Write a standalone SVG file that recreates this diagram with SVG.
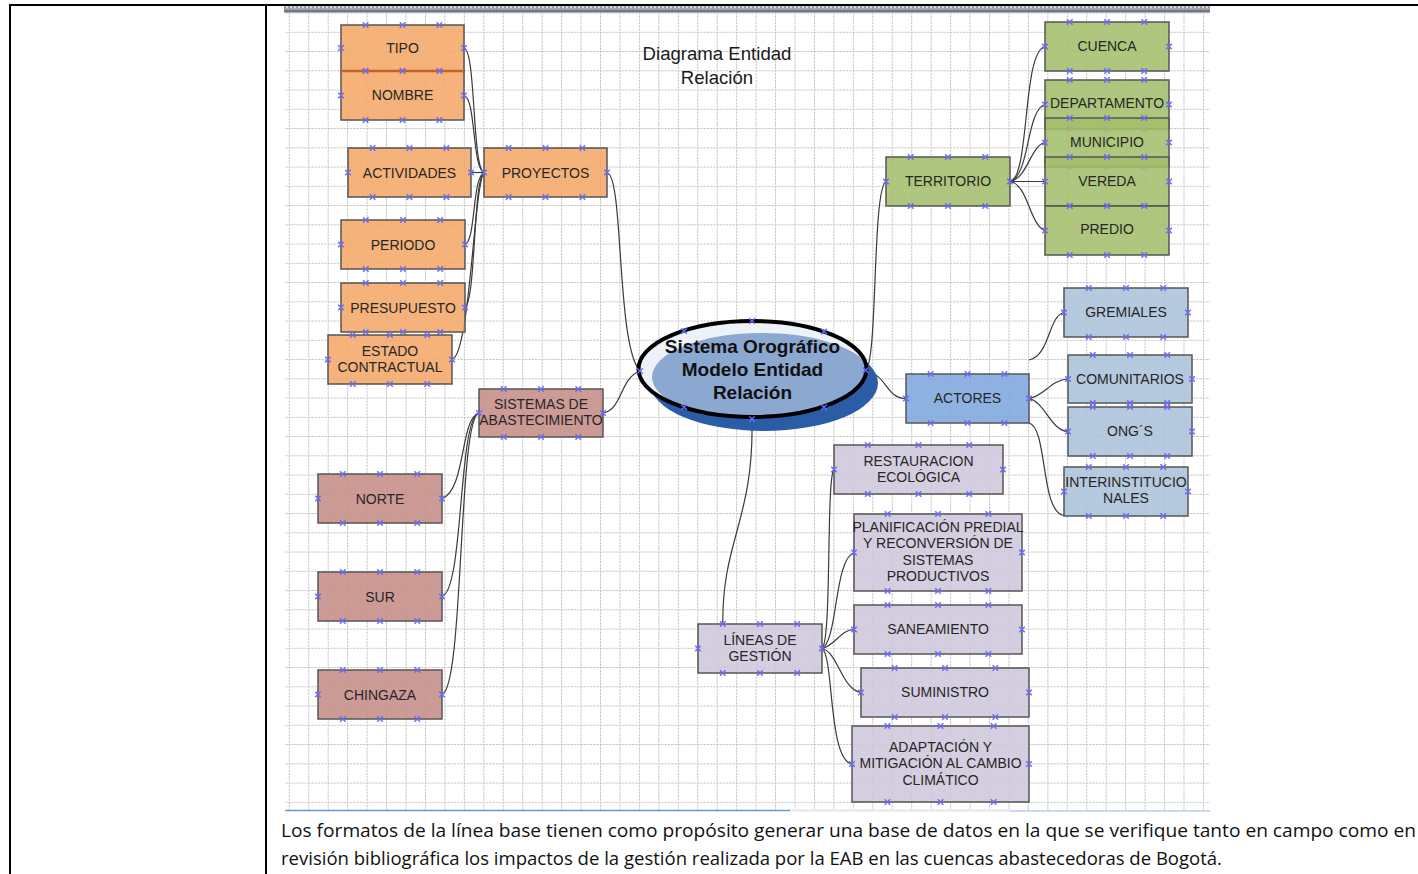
<svg xmlns="http://www.w3.org/2000/svg" width="1418" height="874" viewBox="0 0 1418 874">
<style>
.nd{stroke:#555;stroke-width:1.5;fill-opacity:0.88}
.or{fill:#F4A869}.br{fill:#C68D86}.gr{fill:#A4BE6C}.bl{fill:#ABC1DB}.ac{fill:#7EA9DF}.li{fill:#CFC7DC}
.t{font-family:"Liberation Sans",Arial,sans-serif;font-size:14px;fill:#262626;text-anchor:middle}
.mk{fill:none;stroke:none;marker-start:url(#xm);marker-mid:url(#xm);marker-end:url(#xm)}
.cn{fill:none;stroke:#3a3a3a;stroke-width:1.2}
.para{font-family:"Open Sans","Noto Sans",sans-serif;font-size:18.5px;fill:#111}
</style>
<defs>
<pattern id="grid" patternUnits="userSpaceOnUse" x="288.8" y="31.8" width="19.45" height="19.25">
<path d="M0.5,0 V19.25 M0,0.5 H19.45" stroke="#bdbdbd" stroke-width="1" stroke-dasharray="2,1.2" fill="none"/>
</pattern>
<pattern id="chk" patternUnits="userSpaceOnUse" x="284" y="5" width="4" height="4">
<rect width="4" height="4" fill="#d8d8d8"/><rect width="2" height="4" fill="#9a9a9a"/>
</pattern>
<marker id="xm" markerUnits="userSpaceOnUse" markerWidth="10" markerHeight="10" refX="5" refY="5" orient="0" overflow="visible">
<path d="M2.2,2.2 L7.8,7.8 M7.8,2.2 L2.2,7.8" stroke="#6a6af8" stroke-width="1.4"/>
</marker>
<clipPath id="ec"><ellipse cx="752.5" cy="369" rx="114" ry="48"/></clipPath>
</defs>

<rect width="1418" height="874" fill="#fff"/>
<g id="canvas">
<rect x="285" y="12" width="925" height="798" fill="#fff"/>
<rect x="285" y="12" width="925" height="798" fill="url(#grid)"/>
<rect x="284" y="5.5" width="926" height="3" fill="url(#chk)"/>
<rect x="284" y="8.5" width="926" height="4" fill="#6f7787"/>
<line x1="284" y1="9.5" x2="1210" y2="9.5" stroke="#9aa2b0" stroke-width="1"/>
<line x1="285" y1="810.5" x2="790" y2="810.5" stroke="#6a98d6" stroke-width="1.5"/>
<rect x="790" y="809" width="220" height="3" fill="#ececec"/>
<line x1="1010" y1="811" x2="1210" y2="811" stroke="#b9cdec" stroke-width="1.5"/>
</g>
<g id="table" stroke="#000" stroke-width="2">
<line x1="9" y1="5" x2="1418" y2="5"/>
<line x1="10" y1="4" x2="10" y2="874"/>
<line x1="266" y1="4" x2="266" y2="874"/>
</g>

<g id="title" class="t" style="font-size:18.6px;fill:#1a1a1a">
<text x="717" y="60">Diagrama Entidad</text>
<text x="717" y="84">Relación</text>
</g>

<g id="connectors" class="cn">
<path d="M464,48 C476,50 472,168 484,172.5"/>
<path d="M464,95.5 C476,98 472,168 484,172.5"/>
<path d="M471,172.5 C476,172.5 478,172.5 484,172.5"/>
<path d="M465,244.5 C476,240 472,178 484,172.5"/>
<path d="M465,307.5 C476,300 473,180 484,172.5"/>
<path d="M452,359.5 C470,355 474,185 484,172.5"/>
<path d="M607,172.5 C624,176 616,345 640,371"/>
<path d="M603,413 C622,410 620,378 640,371"/>
<path d="M479,413 C460,418 466,490 442,498.5"/>
<path d="M479,413 C458,418 464,590 442,596.5"/>
<path d="M479,413 C458,418 464,688 442,694.5"/>
<path d="M752,419 C754,520 722,540 722.8,624"/>
<path d="M822,648.5 C832,640 826,478 834,469.5"/>
<path d="M822,648.5 C838,640 834,560 854,552.5"/>
<path d="M822,648.5 C836,645 840,630 854,629.5"/>
<path d="M822,648.5 C838,652 842,690 861,692.5"/>
<path d="M822,648.5 C834,656 828,760 852,764"/>
<path d="M865.7,370.3 C878,360 872,190 886,181.5"/>
<path d="M865.7,370.3 C888,376 886,398.5 906,398.5"/>
<path d="M1010,181.5 C1030,178 1022,52 1045,46.5"/>
<path d="M1010,181.5 C1030,176 1026,110 1045,104.5"/>
<path d="M1010,181.5 C1028,178 1030,146 1045,142.5"/>
<path d="M1010,181.5 L1045,181.5"/>
<path d="M1010,181.5 C1028,184 1030,226 1045,230.5"/>
<path d="M1029,398.5 C1045,396 1050,380 1068,379"/>
<path d="M1029,398.5 C1045,402 1050,430 1068,431.5"/>
<path d="M1029,360 C1050,356 1048,316 1064,312.5"/>
<path d="M1029,423 C1048,428 1040,512 1064,515.5"/>
</g>

<g id="center">
<ellipse cx="764" cy="383" rx="114" ry="48" fill="#2B5DA6"/>
<ellipse cx="752.5" cy="369" rx="114" ry="48" fill="#EDF2F9"/>
<ellipse cx="762" cy="377" rx="110" ry="44" fill="#8BA8D0" clip-path="url(#ec)"/>
<ellipse cx="752.5" cy="369" rx="114" ry="48" fill="none" stroke="#000" stroke-width="4"/>
<g class="t" style="font-size:19px;font-weight:bold;fill:#111">
<text x="752.5" y="352.5">Sistema Orográfico</text>
<text x="752.5" y="375.5">Modelo Entidad</text>
<text x="752.5" y="398.5">Relación</text>
</g>
<polyline class="mk" points="640,371 684,331 752,321 824,331.5 865.7,370.3 824,407.3 752,419.3 684,407.3"/>
</g>

<g id="tipo"><rect class="nd or" x="341" y="25" width="123" height="46"/><text class="t" x="402.5" y="53">TIPO</text>
<polyline class="mk" points="341,48 365.6,25 402.5,25 439.4,25 464,48 439.4,71 402.5,71 365.6,71"/></g>
<g id="nombre"><rect class="nd or" x="341" y="71" width="123" height="49"/><line x1="341" y1="71" x2="464" y2="71" stroke="#C0652A" stroke-width="2.5"/><text class="t" x="402.5" y="100">NOMBRE</text>
<polyline class="mk" points="341,95.5 365.6,71 402.5,71 439.4,71 464,95.5 439.4,120 402.5,120 365.6,120"/></g>
<g id="actividades"><rect class="nd or" x="348" y="148" width="123" height="49"/><text class="t" x="409.5" y="177.5">ACTIVIDADES</text>
<polyline class="mk" points="348,172.5 372.6,148 409.5,148 446.4,148 471,172.5 446.4,197 409.5,197 372.6,197"/></g>
<g id="proyectos"><rect class="nd or" x="484" y="148" width="123" height="49"/><text class="t" x="545.5" y="177.5">PROYECTOS</text>
<polyline class="mk" points="484,172.5 508.6,148 545.5,148 582.4,148 607,172.5 582.4,197 545.5,197 508.6,197"/></g>
<g id="periodo"><rect class="nd or" x="341" y="220" width="124" height="49"/><text class="t" x="403" y="249.5">PERIODO</text>
<polyline class="mk" points="341,244.5 365.8,220 403,220 440.2,220 465,244.5 440.2,269 403,269 365.8,269"/></g>
<g id="presupuesto"><rect class="nd or" x="341" y="283" width="124" height="49"/><text class="t" x="403" y="312.5">PRESUPUESTO</text>
<polyline class="mk" points="341,307.5 365.8,283 403,283 440.2,283 465,307.5 440.2,332 403,332 365.8,332"/></g>
<g id="estado"><rect class="nd or" x="328" y="335" width="124" height="49"/><text class="t" x="390" y="356">ESTADO</text><text class="t" x="390" y="372">CONTRACTUAL</text>
<polyline class="mk" points="328,359.5 352.8,335 390,335 427.2,335 452,359.5 427.2,384 390,384 352.8,384"/></g>
<g id="sistemas"><rect class="nd br" x="479" y="389" width="124" height="48"/><text class="t" x="541" y="409">SISTEMAS DE</text><text class="t" x="541" y="425">ABASTECIMIENTO</text>
<polyline class="mk" points="479,413 503.8,389 541,389 578.2,389 603,413 578.2,437 541,437 503.8,437"/></g>
<g id="norte"><rect class="nd br" x="318" y="474" width="124" height="49"/><text class="t" x="380" y="503.5">NORTE</text>
<polyline class="mk" points="318,498.5 342.8,474 380,474 417.2,474 442,498.5 417.2,523 380,523 342.8,523"/></g>
<g id="sur"><rect class="nd br" x="318" y="572" width="124" height="49"/><text class="t" x="380" y="601.5">SUR</text>
<polyline class="mk" points="318,596.5 342.8,572 380,572 417.2,572 442,596.5 417.2,621 380,621 342.8,621"/></g>
<g id="chingaza"><rect class="nd br" x="318" y="670" width="124" height="49"/><text class="t" x="380" y="699.5">CHINGAZA</text>
<polyline class="mk" points="318,694.5 342.8,670 380,670 417.2,670 442,694.5 417.2,719 380,719 342.8,719"/></g>

<g id="cuenca"><rect class="nd gr" x="1045" y="22" width="124" height="49"/><text class="t" x="1107" y="51">CUENCA</text>
<polyline class="mk" points="1045,46.5 1069.8,22 1107,22 1144.2,22 1169,46.5 1144.2,71 1107,71 1069.8,71"/></g>
<g id="departamento"><rect class="nd gr" x="1045" y="80" width="124" height="49"/><text class="t" x="1107" y="108">DEPARTAMENTO</text>
<polyline class="mk" points="1045,104.5 1069.8,80 1107,80 1144.2,80 1169,104.5 1144.2,129 1107,129 1069.8,129"/></g>
<g id="municipio"><rect class="nd gr" x="1045" y="118" width="124" height="49"/><text class="t" x="1107" y="147">MUNICIPIO</text>
<polyline class="mk" points="1045,142.5 1069.8,118 1107,118 1144.2,118 1169,142.5 1144.2,167 1107,167 1069.8,167"/></g>
<g id="vereda"><rect class="nd gr" x="1045" y="157" width="124" height="49"/><text class="t" x="1107" y="186">VEREDA</text>
<polyline class="mk" points="1045,181.5 1069.8,157 1107,157 1144.2,157 1169,181.5 1144.2,206 1107,206 1069.8,206"/></g>
<g id="predio"><rect class="nd gr" x="1045" y="206" width="124" height="49"/><text class="t" x="1107" y="234">PREDIO</text>
<polyline class="mk" points="1045,230.5 1069.8,206 1107,206 1144.2,206 1169,230.5 1144.2,255 1107,255 1069.8,255"/></g>
<g id="territorio"><rect class="nd gr" x="886" y="157" width="124" height="49"/><text class="t" x="948" y="186">TERRITORIO</text>
<polyline class="mk" points="886,181.5 910.8,157 948,157 985.2,157 1010,181.5 985.2,206 948,206 910.8,206"/></g>

<g id="gremiales"><rect class="nd bl" x="1064" y="288" width="124" height="49"/><text class="t" x="1126" y="317">GREMIALES</text>
<polyline class="mk" points="1064,312.5 1088.8,288 1126,288 1163.2,288 1188,312.5 1163.2,337 1126,337 1088.8,337"/></g>
<g id="comunitarios"><rect class="nd bl" x="1068" y="355" width="124" height="48"/><text class="t" x="1130" y="384">COMUNITARIOS</text>
<polyline class="mk" points="1068,379 1092.8,355 1130,355 1167.2,355 1192,379 1167.2,403 1130,403 1092.8,403"/></g>
<g id="ongs"><rect class="nd bl" x="1068" y="407" width="124" height="49"/><text class="t" x="1130" y="436">ONG´S</text>
<polyline class="mk" points="1068,431.5 1092.8,407 1130,407 1167.2,407 1192,431.5 1167.2,456 1130,456 1092.8,456"/></g>
<g id="interinstitucionales"><rect class="nd bl" x="1064" y="467" width="124" height="49"/><text class="t" x="1126" y="487">INTERINSTITUCIO</text><text class="t" x="1126" y="503">NALES</text>
<polyline class="mk" points="1064,491.5 1088.8,467 1126,467 1163.2,467 1188,491.5 1163.2,516 1126,516 1088.8,516"/></g>
<g id="actores"><rect class="nd ac" x="906" y="374" width="123" height="49"/><text class="t" x="967.5" y="403">ACTORES</text>
<polyline class="mk" points="906,398.5 930.6,374 967.5,374 1004.4,374 1029,398.5 1004.4,423 967.5,423 930.6,423"/></g>

<g id="restauracion"><rect class="nd li" x="834" y="445" width="169" height="49"/><text class="t" x="918.5" y="466">RESTAURACION</text><text class="t" x="918.5" y="482">ECOLÓGICA</text>
<polyline class="mk" points="834,469.5 867.8,445 918.5,445 969.2,445 1003,469.5 969.2,494 918.5,494 867.8,494"/></g>
<g id="planificacion"><rect class="nd li" x="854" y="514" width="168" height="77"/>
<text class="t" x="938" y="532">PLANIFICACIÓN PREDIAL</text><text class="t" x="938" y="548">Y RECONVERSIÓN DE</text><text class="t" x="938" y="565">SISTEMAS</text><text class="t" x="938" y="581">PRODUCTIVOS</text>
<polyline class="mk" points="854,552.5 887.6,514 938,514 988.4,514 1022,552.5 988.4,591 938,591 887.6,591"/></g>
<g id="saneamiento"><rect class="nd li" x="854" y="605" width="168" height="49"/><text class="t" x="938" y="634">SANEAMIENTO</text>
<polyline class="mk" points="854,629.5 887.6,605 938,605 988.4,605 1022,629.5 988.4,654 938,654 887.6,654"/></g>
<g id="suministro"><rect class="nd li" x="861" y="668" width="168" height="49"/><text class="t" x="945" y="697">SUMINISTRO</text>
<polyline class="mk" points="861,692.5 894.6,668 945,668 995.4,668 1029,692.5 995.4,717 945,717 894.6,717"/></g>
<g id="adaptacion"><rect class="nd li" x="852" y="726" width="177" height="76"/>
<text class="t" x="940.5" y="752">ADAPTACIÓN Y</text><text class="t" x="940.5" y="768">MITIGACIÓN AL CAMBIO</text><text class="t" x="940.5" y="785">CLIMÁTICO</text>
<polyline class="mk" points="852,764 887.4,726 940.5,726 993.6,726 1029,764 993.6,802 940.5,802 887.4,802"/></g>
<g id="lineas"><rect class="nd li" x="698" y="624" width="124" height="49"/><text class="t" x="760" y="645">LÍNEAS DE</text><text class="t" x="760" y="661">GESTIÓN</text>
<polyline class="mk" points="698,648.5 722.8,624 760,624 797.2,624 822,648.5 797.2,673 760,673 722.8,673"/></g>

<g id="caption" class="para">
<text x="281" y="836.5" textLength="1135" lengthAdjust="spacingAndGlyphs">Los formatos de la línea base tienen como propósito generar una base de datos en la que se verifique tanto en campo como en</text>
<text x="281" y="865" textLength="941" lengthAdjust="spacingAndGlyphs">revisión bibliográfica los impactos de la gestión realizada por la EAB en las cuencas abastecedoras de Bogotá.</text>
</g>
</svg>
